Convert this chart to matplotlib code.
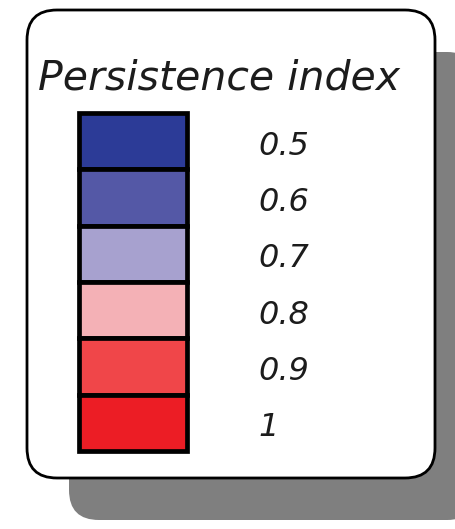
import matplotlib.pyplot as plt
from matplotlib.patches import FancyBboxPatch, Rectangle

# legend entries
values = ["0.5", "0.6", "0.7", "0.8", "0.9", "1"]
colors = ["#2c3b97", "#5458a6", "#a7a1cf", "#f4b1b6", "#f04649", "#ec1d25"]
title = "Persistence index"

W, H = 456, 529
fig = plt.figure(figsize=(W / 100, H / 100), dpi=100)
ax = fig.add_axes([0, 0, 1, 1])
ax.set_xlim(0, W)
ax.set_ylim(H, 0)
ax.axis("off")

# shadow + box
box_x, box_y, box_w, box_h = 27, 10, 408, 468
shadow = FancyBboxPatch((box_x + 42, box_y + 42), box_w, box_h,
                        boxstyle="round,pad=0,rounding_size=30",
                        facecolor="#7f7f7f", edgecolor="none", zorder=1)
ax.add_patch(shadow)
box = FancyBboxPatch((box_x, box_y), box_w, box_h,
                     boxstyle="round,pad=0,rounding_size=30",
                     facecolor="white", edgecolor="black", linewidth=2.0, zorder=2)
ax.add_patch(box)

ax.text(38, 89, title, fontsize=29.5, fontstyle="italic", family="DejaVu Sans",
        color="#1c1c1c", va="baseline", ha="left", zorder=3)

# swatches
sw_x, sw_w = 79, 108
sw_top, sw_h = 113, 56.3
for i, (v, c) in enumerate(zip(values, colors)):
    y = sw_top + i * sw_h
    ax.add_patch(Rectangle((sw_x, y), sw_w, sw_h, facecolor=c,
                           edgecolor="black", linewidth=3.4, zorder=3))
    ax.text(258, y + sw_h / 2 + 5, v, fontsize=23, fontstyle="italic",
            family="DejaVu Sans", color="#1c1c1c", va="center", ha="left", zorder=3)

fig.savefig("out.png", dpi=100)
